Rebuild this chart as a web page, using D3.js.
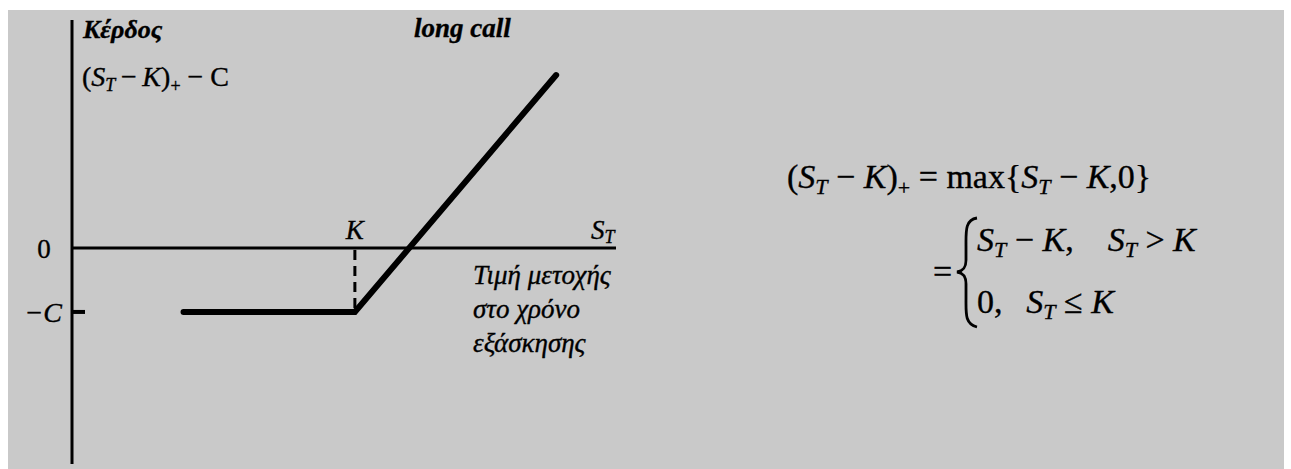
<!DOCTYPE html>
<html>
<head>
<meta charset="utf-8">
<script src="https://cdn.jsdelivr.net/npm/d3@7"></script>
<style>
  html, body { margin: 0; padding: 0; background: #ffffff; }
  svg { display: block; }
  text { font-family: "Liberation Serif", "Times New Roman", serif; fill: #000; stroke: #000; stroke-width: 0.35px; }
</style>
</head>
<body>
<svg id="chart" width="1291" height="469"></svg>
<script>
// Long call payoff: profit = max(S_T - K, 0) - C
const strike = 52;          // K
const premium = 10;         // C
const priceDomain = [0, 100];
const profitDomain = [-33.75, 35.6];
const payoffPrices = [20.5, strike, 89];   // S_T values where the payoff path starts, bends, ends
const yTickValues = [0, -premium];
const yTickLabels = ["0", "\u2212C"];
const captionLines = ["Τιμή μετοχής", "στο χρόνο", "εξάσκησης"];

const svg = d3.select("#chart");

// panel background
svg.append("rect")
  .attr("x", 8).attr("y", 10).attr("width", 1276).attr("height", 459)
  .attr("fill", "#c9c9c9");

const x = d3.scaleLinear().domain(priceDomain).range([72, 616]);
const y = d3.scaleLinear().domain(profitDomain).range([464, 20]);

const profit = s => Math.max(s - strike, 0) - premium;

// axes
svg.append("line")
  .attr("x1", x(0)).attr("x2", x(0))
  .attr("y1", y(profitDomain[1])).attr("y2", y(profitDomain[0]))
  .attr("stroke", "#000").attr("stroke-width", 3);
svg.append("line")
  .attr("x1", x(0)).attr("x2", x(priceDomain[1]))
  .attr("y1", y(0)).attr("y2", y(0))
  .attr("stroke", "#000").attr("stroke-width", 3);

// tick mark at -C
svg.append("line")
  .attr("x1", x(0)).attr("x2", x(0) + 13)
  .attr("y1", y(-premium)).attr("y2", y(-premium))
  .attr("stroke", "#000").attr("stroke-width", 4);

// y tick labels
svg.append("text")
  .attr("x", 44).attr("y", y(yTickValues[0]) + 10)
  .attr("text-anchor", "middle").attr("font-size", 27)
  .text(yTickLabels[0]);
svg.append("text")
  .attr("x", 62).attr("y", y(yTickValues[1]) + 10)
  .attr("text-anchor", "end").attr("font-size", 28).attr("font-style", "italic")
  .text(yTickLabels[1]);

// dashed guide at K
svg.append("line")
  .attr("x1", x(strike)).attr("x2", x(strike))
  .attr("y1", y(0) + 2).attr("y2", y(-premium))
  .attr("stroke", "#000").attr("stroke-width", 3)
  .attr("stroke-dasharray", "10,6");

// payoff line
const line = d3.line().x(d => x(d)).y(d => y(profit(d)));
svg.append("path")
  .datum(payoffPrices)
  .attr("d", line)
  .attr("fill", "none").attr("stroke", "#000")
  .attr("stroke-width", 6).attr("stroke-linecap", "round").attr("stroke-linejoin", "miter");

// K label
svg.append("text")
  .attr("x", x(strike)).attr("y", y(0) - 9)
  .attr("text-anchor", "middle").attr("font-size", 27).attr("font-style", "italic")
  .text("K");

// S_T label at the end of the x axis
const st = svg.append("text")
  .attr("x", 591).attr("y", y(0) - 9)
  .attr("font-size", 27).attr("font-style", "italic");
st.append("tspan").text("S");
st.append("tspan").attr("font-size", 18).attr("dy", 4).text("T");

// x axis caption
const cap = svg.append("text")
  .attr("font-size", 27).attr("font-style", "italic");
captionLines.forEach((t, i) => {
  cap.append("tspan").attr("x", 473).attr("y", 284 + i * 34).text(t);
});

// y axis title
svg.append("text")
  .attr("x", 83).attr("y", 38)
  .attr("font-size", 26).attr("font-style", "italic").attr("font-weight", "bold")
  .text("Κέρδος");

const yt = svg.append("text")
  .attr("x", 82).attr("y", 86).attr("font-size", 28);
yt.append("tspan").text("(");
yt.append("tspan").attr("font-style", "italic").text("S");
yt.append("tspan").attr("font-style", "italic").attr("font-size", 18).attr("dy", 5).text("T");
yt.append("tspan").attr("dy", -5).text("\u2009\u2212\u2009");
yt.append("tspan").attr("font-style", "italic").text("K");
yt.append("tspan").text(")");
yt.append("tspan").attr("font-size", 18).attr("dy", 6).text("+");
yt.append("tspan").attr("dy", -6).text(" \u2212 C");

// chart title
svg.append("text")
  .attr("x", 414).attr("y", 37)
  .attr("font-size", 27).attr("font-style", "italic").attr("font-weight", "bold")
  .text("long call");

// definition of the positive part
const f1 = svg.append("text")
  .attr("x", 787).attr("y", 188).attr("font-size", 34);
f1.append("tspan").text("(");
f1.append("tspan").attr("font-style", "italic").text("S");
f1.append("tspan").attr("font-style", "italic").attr("font-size", 22).attr("dy", 6).text("T");
f1.append("tspan").attr("dy", -6).text(" \u2212 ");
f1.append("tspan").attr("font-style", "italic").text("K");
f1.append("tspan").text(")");
f1.append("tspan").attr("font-size", 22).attr("dy", 7).text("+");
f1.append("tspan").attr("dy", -7).text(" = max{");
f1.append("tspan").attr("font-style", "italic").text("S");
f1.append("tspan").attr("font-style", "italic").attr("font-size", 22).attr("dy", 6).text("T");
f1.append("tspan").attr("dy", -6).text(" \u2212 ");
f1.append("tspan").attr("font-style", "italic").text("K");
f1.append("tspan").text(",0}");

svg.append("text")
  .attr("x", 933).attr("y", 283).attr("font-size", 34).text("=");

// curly brace
svg.append("path")
  .attr("d", "M977,218 C965,220 966,231 966,246 L966,260 C966,268 963,271 957,272 C963,273 966,276 966,284 L966,299 C966,314 965,324 977,327")
  .attr("fill", "none").attr("stroke", "#000").attr("stroke-width", 2.8);

const c1 = svg.append("text")
  .attr("x", 977).attr("y", 251).attr("font-size", 34);
c1.append("tspan").attr("font-style", "italic").text("S");
c1.append("tspan").attr("font-style", "italic").attr("font-size", 22).attr("dy", 6).text("T");
c1.append("tspan").attr("dy", -6).text(" \u2212 ");
c1.append("tspan").attr("font-style", "italic").text("K");
c1.append("tspan").text(",\u2002\u2002");
c1.append("tspan").attr("font-style", "italic").text("S");
c1.append("tspan").attr("font-style", "italic").attr("font-size", 22).attr("dy", 6).text("T");
c1.append("tspan").attr("dy", -6).text(" > ");
c1.append("tspan").attr("font-style", "italic").text("K");

const c2 = svg.append("text")
  .attr("x", 977).attr("y", 313).attr("font-size", 34);
c2.append("tspan").text("0,\u2002\u2009");
c2.append("tspan").attr("font-style", "italic").text("S");
c2.append("tspan").attr("font-style", "italic").attr("font-size", 22).attr("dy", 6).text("T");
c2.append("tspan").attr("dy", -6).text(" \u2264 ");
c2.append("tspan").attr("font-style", "italic").text("K");
</script>
</body>
</html>
